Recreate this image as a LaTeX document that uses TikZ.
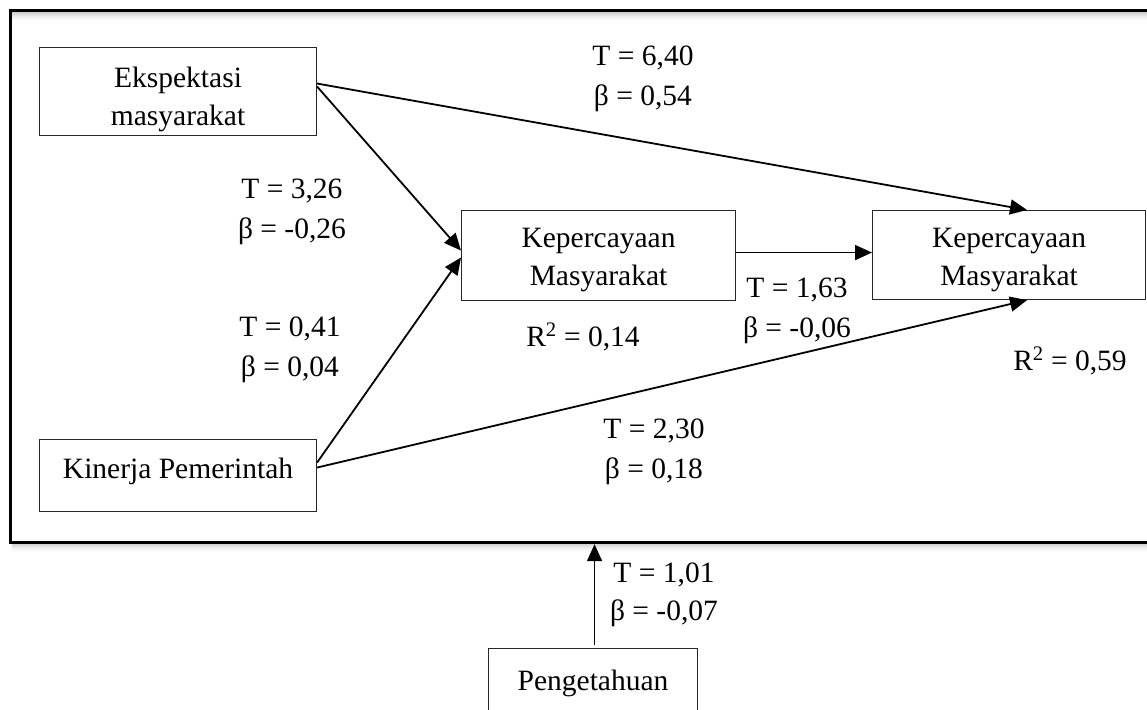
\documentclass[tikz,border=0pt]{standalone}
\usepackage{fontspec}
\setmainfont{Liberation Serif}
\usetikzlibrary{arrows.meta}
\begin{document}
\begin{tikzpicture}[x=1pt,y=-1pt,
  every node/.style={font=\fontsize{29.5}{38}\selectfont},
  box/.style={draw=black!85, line width=1.1pt, align=center, inner xsep=0pt, inner ysep=0pt, anchor=north west},
  lab/.style={align=center, anchor=base, inner sep=0pt, font=\fontsize{29.5}{40}\selectfont},
  conn/.style={line width=1.8pt, -{Triangle[length=17pt,width=15pt]}},
  framebox/.style={draw=black, line width=3pt, outer sep=0pt, inner sep=0pt, anchor=north west}
  ]
\useasboundingbox (0,0) rectangle (1147,709);
\clip (0,0) rectangle (1147,709);
% soft shadow of the frame
\foreach \k/\c in {3/20,4/17,5/14,6/11,7/8,8/6,9/4,10/2}{
  \draw[black!\c, line width=1.1pt] (12,541+\k) -- (1147,541+\k);
  \draw[black!\c, line width=1.1pt] (12,10+\k) -- (1147,10+\k);
}
\node[framebox, minimum width=1200pt, minimum height=531.7pt] (frame) at (10.3,11) {};

% boxes
\node[box, minimum width=277pt, text height=78pt, text depth=10pt] (eksp) at (39,47) {Ekspektasi\\masyarakat};
\node[box, minimum width=277pt, text height=39pt, text depth=33pt] (kin) at (39,439) {Kinerja Pemerintah};
\node[box, minimum width=274pt, text height=75pt, text depth=15pt] (kep1) at (461,210) {Kepercayaan\\Masyarakat};
\node[box, minimum width=273pt, text height=75pt, text depth=14pt] (kep2) at (872,210) {Kepercayaan\\Masyarakat};
\node[box, minimum width=209pt, text height=42pt, text depth=33pt] (peng) at (488,648) {Pengetahuan};

% connectors
\draw[conn] ([yshift=8pt]eksp.east) -- ([xshift=18pt]kep2.north);
\draw[conn] ([yshift=5pt]eksp.east) -- ([yshift=5pt]kep1.west);
\draw[conn] ([yshift=13pt]kin.east) -- ([yshift=-2pt]kep1.west);
\draw[conn] ([yshift=8pt]kin.east) -- ([xshift=18pt]kep2.south);
\draw[conn] ([yshift=3pt]kep1.east) -- ([yshift=3pt]kep1.east -| kep2.west);
\draw[conn, shorten <=3pt, shorten >=1.5pt] ([xshift=1.5pt]peng.north) -- ([xshift=1.5pt]peng.north |- frame.south);

% labels (anchor at baseline of last line)
\node[lab] (l1) at (643,105) {T = 6,40\\β = 0,54};
\node[lab] (l2) at (292,238) {T = 3,26\\β = -0,26};
\node[lab] (l3) at (290,376) {T = 0,41\\β = 0,04};
\node[lab] (l4) at (583,346) {R\textsuperscript{2} = 0,14};
\node[lab] (l5) at (797,337) {T = 1,63\\β = -0,06};
\node[lab] (l6) at (1070,370) {R\textsuperscript{2} = 0,59};
\node[lab] (l7) at (654,478) {T = 2,30\\β = 0,18};
\node[lab, font=\fontsize{29.5}{38}\selectfont] (l8) at (664,620) {T = 1,01\\β = -0,07};
\end{tikzpicture}
\end{document}
